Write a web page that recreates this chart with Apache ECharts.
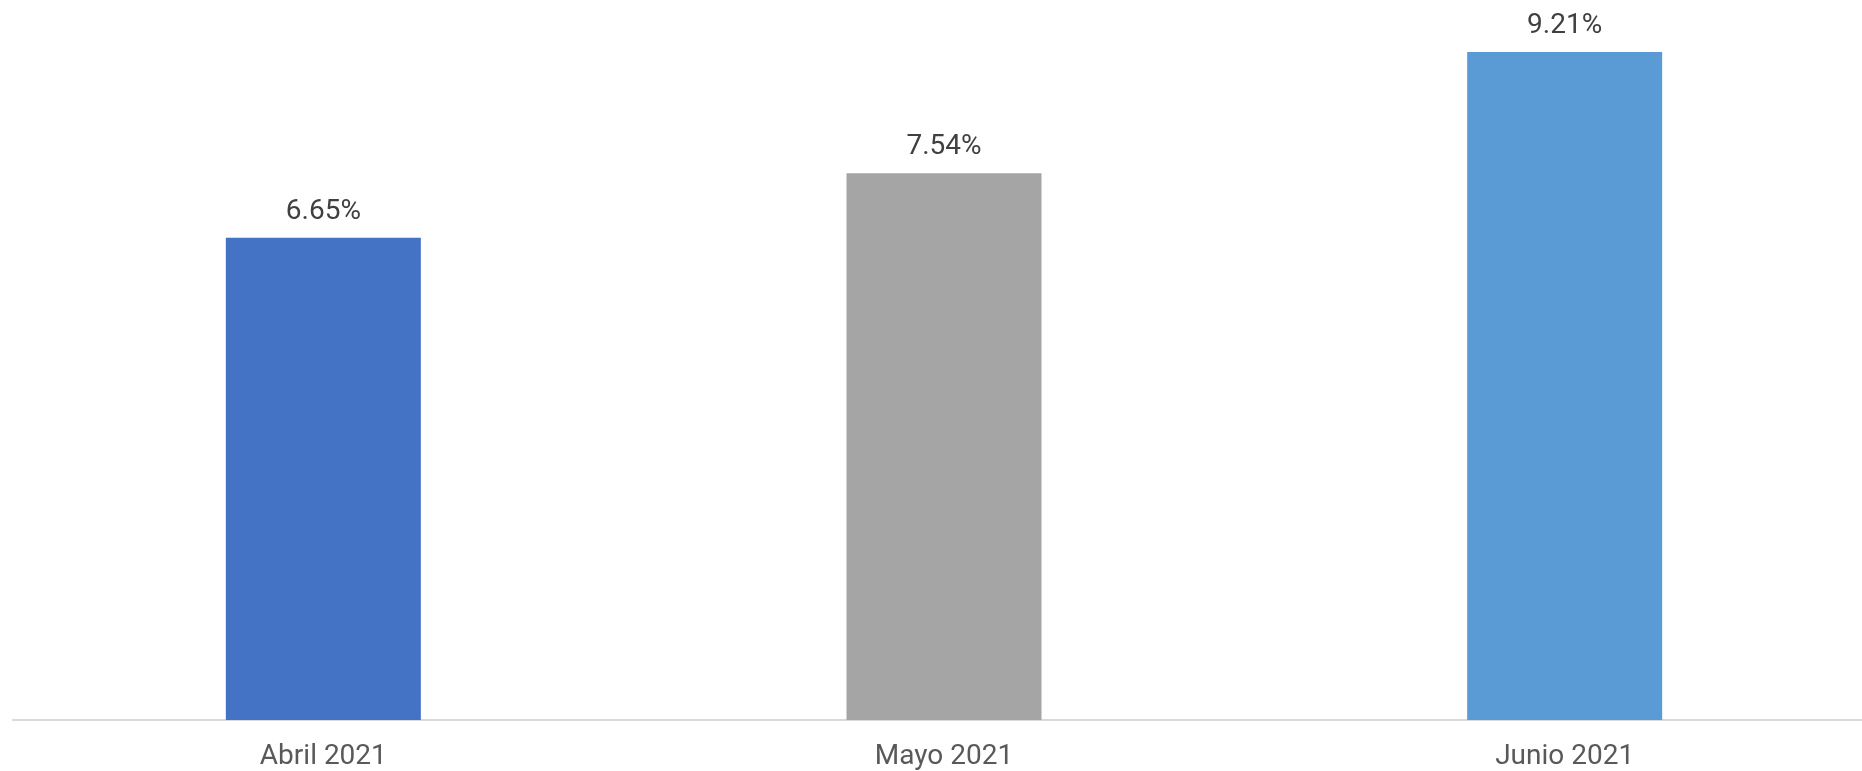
<!DOCTYPE html>
<html>
<head>
<meta charset="utf-8">
<script src="https://cdn.jsdelivr.net/npm/echarts@6/dist/echarts.min.js"></script>
<style>
html,body{margin:0;padding:0;background:#fff;overflow:hidden;width:1862px;height:771px;}
#chart{width:1880px;height:771px;}
</style>
</head>
<body>
<div id="chart"></div>
<script>
const categories = ['Abril 2021', 'Mayo 2021', 'Junio 2021'];
const values = [6.65, 7.54, 9.21];
const barColors = ['#4472C4', '#A5A5A5', '#5B9BD5'];

const chart = echarts.init(document.getElementById('chart'));
chart.setOption({
  animation: false,
  grid: { left: 13, width: 1862, top: 31, height: 690, containLabel: false },
  xAxis: {
    type: 'category',
    data: categories,
    axisLine: { lineStyle: { color: '#D9D9D9', width: 2 } },
    axisTick: { show: false },
    axisLabel: { color: '#595959', fontSize: 28, fontFamily: 'Roboto', margin: 23 }
  },
  yAxis: {
    type: 'value', min: 0, max: 9.5,
    show: false,
    splitLine: { show: false }
  },
  series: [{
    type: 'bar',
    barWidth: 195,
    data: values.map((v, i) => ({ value: v, itemStyle: { color: barColors[i] } })),
    label: {
      show: true, position: 'top', distance: 12,
      color: '#404040', fontSize: 28, fontFamily: 'Roboto',
      formatter: p => p.value.toFixed(2) + '%'
    }
  }]
});
</script>
</body>
</html>
